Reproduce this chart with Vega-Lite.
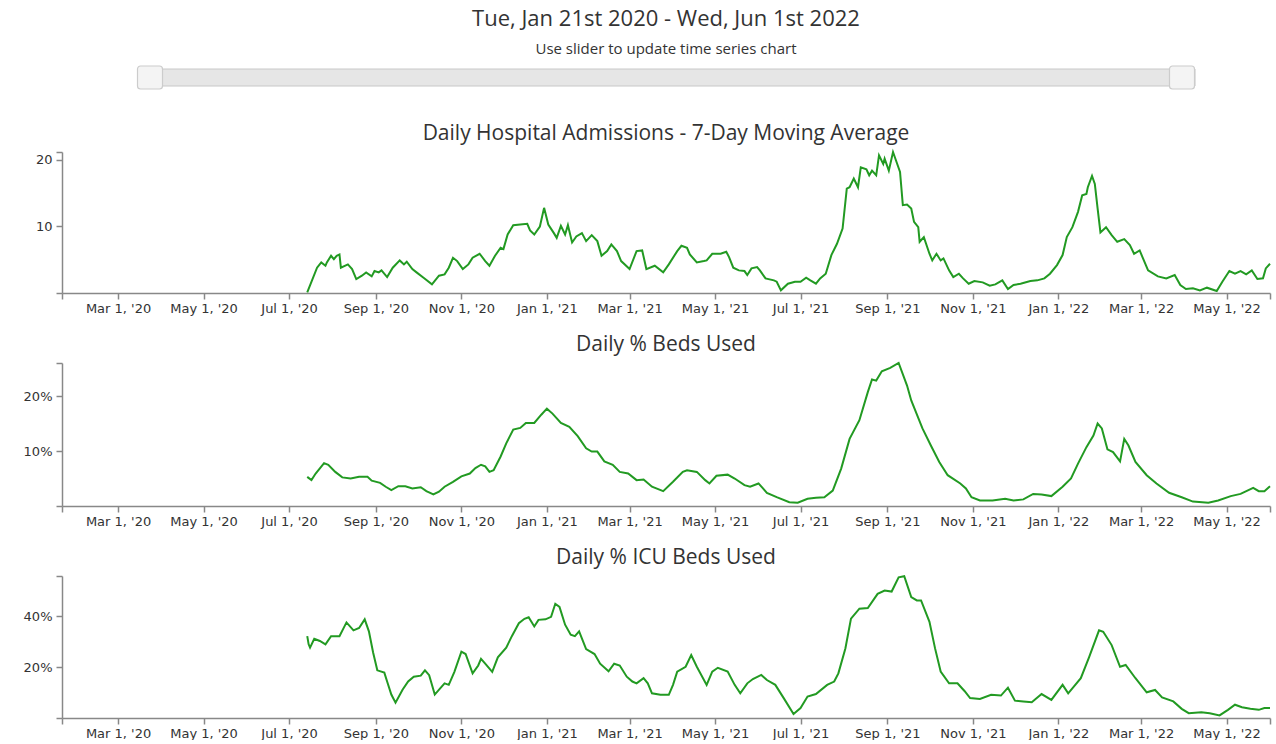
{
  "$schema": "https://vega.github.io/schema/vega-lite/v6.json",
  "padding": {"left": 22, "top": 8, "right": 6, "bottom": 0},
  "background": "white",
  "spacing": 19,
  "config": {
    "view": {"stroke": null},
    "font": "Open Sans",
    "title": {"font": "Open Sans", "fontSize": 21, "fontWeight": "normal", "color": "#333333", "anchor": "middle", "frame": "group", "offset": 2},
    "axis": {"labelFont": "DejaVu Sans", "labelFontSize": 13, "labelColor": "#333333", "domainColor": "#888888", "domainWidth": 1.5, "tickColor": "#888888", "tickWidth": 1.5, "tickSize": 6, "grid": false, "labelPadding": 3, "labelOverlap": false, "labelFlush": false}
  },
  "datasets": {
    "slider": [{"s": "2020-01-21", "e": "2022-06-01"}],
    "adm": [
      {"d":"2020-07-14","v":0.1},{"d":"2020-07-21","v":3.8},{"d":"2020-07-24","v":4.6},{"d":"2020-07-27","v":4.1},{"d":"2020-07-28","v":4.6},{"d":"2020-07-31","v":5.6},{"d":"2020-08-02","v":5.1},{"d":"2020-08-04","v":5.6},{"d":"2020-08-06","v":5.8},{"d":"2020-08-07","v":3.8},{"d":"2020-08-12","v":4.3},{"d":"2020-08-15","v":3.6},{"d":"2020-08-18","v":2.1},{"d":"2020-08-22","v":2.6},{"d":"2020-08-25","v":3.1},{"d":"2020-08-29","v":2.5},{"d":"2020-08-31","v":3.3},{"d":"2020-09-03","v":3.1},{"d":"2020-09-05","v":3.4},{"d":"2020-09-09","v":2.4},{"d":"2020-09-13","v":3.8},{"d":"2020-09-18","v":4.9},{"d":"2020-09-21","v":4.3},{"d":"2020-09-23","v":4.7},{"d":"2020-09-27","v":3.6},{"d":"2020-09-30","v":3.1},{"d":"2020-10-05","v":2.3},{"d":"2020-10-11","v":1.3},{"d":"2020-10-16","v":2.6},{"d":"2020-10-20","v":2.8},{"d":"2020-10-23","v":3.8},{"d":"2020-10-26","v":5.3},{"d":"2020-10-29","v":4.8},{"d":"2020-11-02","v":3.6},{"d":"2020-11-06","v":4.3},{"d":"2020-11-09","v":5.3},{"d":"2020-11-14","v":5.9},{"d":"2020-11-18","v":4.8},{"d":"2020-11-21","v":4.1},{"d":"2020-11-25","v":5.6},{"d":"2020-11-29","v":6.8},{"d":"2020-12-01","v":6.6},{"d":"2020-12-04","v":8.8},{"d":"2020-12-08","v":10.2},{"d":"2020-12-13","v":10.3},{"d":"2020-12-18","v":10.4},{"d":"2020-12-20","v":9.4},{"d":"2020-12-23","v":8.8},{"d":"2020-12-27","v":10.0},{"d":"2020-12-30","v":12.8},
      {"d":"2021-01-02","v":10.3},{"d":"2021-01-06","v":9.0},{"d":"2021-01-08","v":8.3},{"d":"2021-01-11","v":10.1},{"d":"2021-01-14","v":8.8},{"d":"2021-01-16","v":10.2},{"d":"2021-01-19","v":7.6},{"d":"2021-01-22","v":8.5},{"d":"2021-01-26","v":9.0},{"d":"2021-01-29","v":7.8},{"d":"2021-02-02","v":8.7},{"d":"2021-02-06","v":7.8},{"d":"2021-02-09","v":5.6},{"d":"2021-02-13","v":6.3},{"d":"2021-02-16","v":7.3},{"d":"2021-02-20","v":6.3},{"d":"2021-02-23","v":4.8},{"d":"2021-03-01","v":3.6},{"d":"2021-03-06","v":6.3},{"d":"2021-03-10","v":6.4},{"d":"2021-03-13","v":3.6},{"d":"2021-03-19","v":4.1},{"d":"2021-03-25","v":3.1},{"d":"2021-03-29","v":4.3},{"d":"2021-04-04","v":6.3},{"d":"2021-04-07","v":7.1},{"d":"2021-04-11","v":6.8},{"d":"2021-04-13","v":5.8},{"d":"2021-04-18","v":4.6},{"d":"2021-04-23","v":4.8},{"d":"2021-04-25","v":4.9},{"d":"2021-04-29","v":5.9},{"d":"2021-05-05","v":5.9},{"d":"2021-05-09","v":6.2},{"d":"2021-05-11","v":5.4},{"d":"2021-05-14","v":3.8},{"d":"2021-05-18","v":3.4},{"d":"2021-05-22","v":3.3},{"d":"2021-05-24","v":2.7},{"d":"2021-05-27","v":3.7},{"d":"2021-05-31","v":3.9},{"d":"2021-06-02","v":3.4},{"d":"2021-06-06","v":2.2},{"d":"2021-06-12","v":1.9},{"d":"2021-06-14","v":1.7},{"d":"2021-06-17","v":0.4},{"d":"2021-06-22","v":1.4},{"d":"2021-06-27","v":1.7},{"d":"2021-07-01","v":1.7},{"d":"2021-07-05","v":2.3},{"d":"2021-07-08","v":1.9},{"d":"2021-07-12","v":1.4},{"d":"2021-07-15","v":2.2},{"d":"2021-07-19","v":2.9},{"d":"2021-07-23","v":5.7},{"d":"2021-07-27","v":7.4},{"d":"2021-07-31","v":9.7},{"d":"2021-08-03","v":15.7},{"d":"2021-08-05","v":15.9},{"d":"2021-08-08","v":17.2},{"d":"2021-08-11","v":15.9},{"d":"2021-08-13","v":18.9},{"d":"2021-08-17","v":18.6},{"d":"2021-08-19","v":17.7},{"d":"2021-08-21","v":18.4},{"d":"2021-08-24","v":17.7},{"d":"2021-08-26","v":20.7},{"d":"2021-08-29","v":19.4},{"d":"2021-08-30","v":20.2},{"d":"2021-09-02","v":18.4},{"d":"2021-09-05","v":21.2},{"d":"2021-09-07","v":20.0},{"d":"2021-09-10","v":18.2},{"d":"2021-09-12","v":13.2},{"d":"2021-09-15","v":13.3},{"d":"2021-09-18","v":12.7},{"d":"2021-09-20","v":10.7},{"d":"2021-09-23","v":9.9},{"d":"2021-09-24","v":7.7},{"d":"2021-09-27","v":8.4},{"d":"2021-10-01","v":5.9},{"d":"2021-10-03","v":4.9},{"d":"2021-10-06","v":5.9},{"d":"2021-10-09","v":4.9},{"d":"2021-10-11","v":5.2},{"d":"2021-10-15","v":3.4},{"d":"2021-10-18","v":2.4},{"d":"2021-10-22","v":2.9},{"d":"2021-10-25","v":2.2},{"d":"2021-10-29","v":1.4},{"d":"2021-11-02","v":1.8},{"d":"2021-11-08","v":1.6},{"d":"2021-11-13","v":1.1},{"d":"2021-11-17","v":1.3},{"d":"2021-11-22","v":1.9},{"d":"2021-11-26","v":0.6},{"d":"2021-11-30","v":1.2},{"d":"2021-12-05","v":1.4},{"d":"2021-12-12","v":1.8},{"d":"2021-12-17","v":1.9},{"d":"2021-12-22","v":2.2},{"d":"2021-12-26","v":2.9},{"d":"2021-12-31","v":4.2},
      {"d":"2022-01-04","v":5.7},{"d":"2022-01-07","v":8.4},{"d":"2022-01-11","v":9.9},{"d":"2022-01-15","v":12.2},{"d":"2022-01-18","v":14.7},{"d":"2022-01-21","v":14.9},{"d":"2022-01-22","v":15.9},{"d":"2022-01-25","v":17.6},{"d":"2022-01-27","v":16.4},{"d":"2022-01-29","v":12.7},{"d":"2022-01-31","v":9.1},{"d":"2022-02-04","v":9.9},{"d":"2022-02-08","v":8.7},{"d":"2022-02-12","v":7.7},{"d":"2022-02-17","v":8.1},{"d":"2022-02-21","v":7.2},{"d":"2022-02-24","v":5.9},{"d":"2022-02-28","v":6.4},{"d":"2022-03-02","v":5.4},{"d":"2022-03-06","v":3.4},{"d":"2022-03-13","v":2.5},{"d":"2022-03-19","v":2.2},{"d":"2022-03-25","v":2.7},{"d":"2022-03-29","v":1.2},{"d":"2022-04-02","v":0.6},{"d":"2022-04-07","v":0.7},{"d":"2022-04-12","v":0.4},{"d":"2022-04-17","v":0.8},{"d":"2022-04-24","v":0.3},{"d":"2022-04-28","v":1.7},{"d":"2022-05-03","v":3.3},{"d":"2022-05-07","v":2.9},{"d":"2022-05-11","v":3.3},{"d":"2022-05-15","v":2.8},{"d":"2022-05-19","v":3.4},{"d":"2022-05-23","v":2.1},{"d":"2022-05-27","v":2.2},{"d":"2022-05-29","v":3.7},{"d":"2022-06-01","v":4.4}
    ],
    "beds": [
      {"d":"2020-07-14","v":5.3},{"d":"2020-07-17","v":4.7},{"d":"2020-07-20","v":5.9},{"d":"2020-07-26","v":7.8},{"d":"2020-07-29","v":7.5},{"d":"2020-08-03","v":6.2},{"d":"2020-08-08","v":5.2},{"d":"2020-08-14","v":5.0},{"d":"2020-08-20","v":5.3},{"d":"2020-08-26","v":5.3},{"d":"2020-08-29","v":4.6},{"d":"2020-09-04","v":4.2},{"d":"2020-09-08","v":3.5},{"d":"2020-09-12","v":2.9},{"d":"2020-09-17","v":3.6},{"d":"2020-09-22","v":3.6},{"d":"2020-09-27","v":3.2},{"d":"2020-10-03","v":3.4},{"d":"2020-10-07","v":2.7},{"d":"2020-10-12","v":2.1},{"d":"2020-10-16","v":2.6},{"d":"2020-10-20","v":3.5},{"d":"2020-10-26","v":4.4},{"d":"2020-11-01","v":5.4},{"d":"2020-11-07","v":5.9},{"d":"2020-11-11","v":6.9},{"d":"2020-11-15","v":7.5},{"d":"2020-11-18","v":7.2},{"d":"2020-11-21","v":6.2},{"d":"2020-11-24","v":6.5},{"d":"2020-11-29","v":9.0},{"d":"2020-12-03","v":11.4},{"d":"2020-12-08","v":13.9},{"d":"2020-12-13","v":14.2},{"d":"2020-12-17","v":15.1},{"d":"2020-12-23","v":15.1},{"d":"2020-12-28","v":16.6},
      {"d":"2021-01-01","v":17.7},{"d":"2021-01-05","v":16.8},{"d":"2021-01-11","v":15.1},{"d":"2021-01-17","v":14.4},{"d":"2021-01-23","v":12.7},{"d":"2021-01-29","v":10.5},{"d":"2021-02-02","v":9.9},{"d":"2021-02-06","v":9.9},{"d":"2021-02-11","v":8.1},{"d":"2021-02-17","v":7.5},{"d":"2021-02-22","v":6.2},{"d":"2021-02-28","v":5.9},{"d":"2021-03-06","v":4.7},{"d":"2021-03-11","v":4.8},{"d":"2021-03-17","v":3.5},{"d":"2021-03-25","v":2.7},{"d":"2021-04-01","v":4.4},{"d":"2021-04-08","v":6.2},{"d":"2021-04-11","v":6.5},{"d":"2021-04-18","v":6.2},{"d":"2021-04-24","v":4.7},{"d":"2021-04-27","v":4.1},{"d":"2021-05-02","v":5.5},{"d":"2021-05-10","v":5.7},{"d":"2021-05-15","v":5.0},{"d":"2021-05-22","v":3.8},{"d":"2021-05-26","v":3.5},{"d":"2021-06-01","v":4.1},{"d":"2021-06-07","v":2.4},{"d":"2021-06-14","v":1.6},{"d":"2021-06-23","v":0.7},{"d":"2021-06-29","v":0.6},{"d":"2021-07-06","v":1.3},{"d":"2021-07-12","v":1.5},{"d":"2021-07-18","v":1.6},{"d":"2021-07-24","v":2.8},{"d":"2021-07-30","v":6.8},{"d":"2021-08-05","v":12.2},{"d":"2021-08-12","v":15.6},{"d":"2021-08-18","v":20.7},{"d":"2021-08-21","v":23.0},{"d":"2021-08-24","v":22.8},{"d":"2021-08-28","v":24.5},{"d":"2021-09-03","v":25.1},{"d":"2021-09-09","v":26.0},{"d":"2021-09-15","v":21.9},{"d":"2021-09-18","v":19.2},{"d":"2021-09-26","v":14.1},{"d":"2021-10-02","v":11.0},{"d":"2021-10-08","v":8.0},{"d":"2021-10-14","v":5.6},{"d":"2021-10-23","v":4.1},{"d":"2021-10-27","v":3.2},{"d":"2021-10-31","v":1.6},{"d":"2021-11-06","v":1.0},{"d":"2021-11-15","v":1.0},{"d":"2021-11-24","v":1.3},{"d":"2021-11-30","v":1.0},{"d":"2021-12-07","v":1.2},{"d":"2021-12-14","v":2.2},{"d":"2021-12-20","v":2.1},{"d":"2021-12-27","v":1.8},
      {"d":"2022-01-04","v":3.5},{"d":"2022-01-10","v":5.0},{"d":"2022-01-15","v":7.7},{"d":"2022-01-21","v":10.7},{"d":"2022-01-26","v":12.8},{"d":"2022-01-29","v":15.0},{"d":"2022-02-01","v":14.1},{"d":"2022-02-05","v":10.3},{"d":"2022-02-09","v":9.8},{"d":"2022-02-14","v":8.1},{"d":"2022-02-17","v":12.2},{"d":"2022-02-20","v":11.0},{"d":"2022-02-25","v":8.0},{"d":"2022-03-05","v":5.6},{"d":"2022-03-12","v":4.1},{"d":"2022-03-21","v":2.4},{"d":"2022-03-30","v":1.6},{"d":"2022-04-07","v":0.8},{"d":"2022-04-18","v":0.6},{"d":"2022-04-25","v":1.0},{"d":"2022-05-04","v":1.8},{"d":"2022-05-11","v":2.2},{"d":"2022-05-20","v":3.3},{"d":"2022-05-24","v":2.7},{"d":"2022-05-28","v":2.7},{"d":"2022-06-01","v":3.6}
    ],
    "icu": [
      {"d":"2020-07-14","v":32.1},{"d":"2020-07-15","v":28.9},{"d":"2020-07-16","v":27.6},{"d":"2020-07-19","v":31.1},{"d":"2020-07-23","v":30.2},{"d":"2020-07-27","v":28.9},{"d":"2020-07-31","v":32.1},{"d":"2020-08-06","v":32.1},{"d":"2020-08-11","v":37.5},{"d":"2020-08-16","v":34.4},{"d":"2020-08-20","v":35.3},{"d":"2020-08-24","v":38.7},{"d":"2020-08-27","v":34.0},{"d":"2020-08-30","v":25.7},{"d":"2020-09-02","v":18.7},{"d":"2020-09-07","v":17.8},{"d":"2020-09-09","v":14.3},{"d":"2020-09-12","v":9.2},{"d":"2020-09-15","v":6.0},{"d":"2020-09-20","v":11.1},{"d":"2020-09-24","v":14.3},{"d":"2020-09-28","v":16.2},{"d":"2020-10-03","v":16.6},{"d":"2020-10-06","v":18.7},{"d":"2020-10-09","v":16.8},{"d":"2020-10-13","v":9.2},{"d":"2020-10-17","v":11.7},{"d":"2020-10-20","v":13.6},{"d":"2020-10-23","v":13.0},{"d":"2020-10-27","v":18.1},{"d":"2020-11-01","v":26.0},{"d":"2020-11-04","v":25.1},{"d":"2020-11-09","v":17.5},{"d":"2020-11-13","v":20.6},{"d":"2020-11-15","v":23.2},{"d":"2020-11-18","v":21.3},{"d":"2020-11-23","v":18.1},{"d":"2020-11-27","v":23.8},{"d":"2020-12-03","v":27.6},{"d":"2020-12-07","v":32.1},{"d":"2020-12-12","v":37.2},{"d":"2020-12-16","v":38.9},{"d":"2020-12-19","v":39.5},{"d":"2020-12-23","v":35.9},{"d":"2020-12-26","v":38.5},{"d":"2020-12-31","v":38.7},
      {"d":"2021-01-04","v":39.7},{"d":"2021-01-07","v":44.8},{"d":"2021-01-10","v":43.6},{"d":"2021-01-14","v":36.6},{"d":"2021-01-18","v":32.7},{"d":"2021-01-21","v":32.1},{"d":"2021-01-24","v":34.0},{"d":"2021-01-29","v":27.0},{"d":"2021-02-04","v":25.1},{"d":"2021-02-08","v":21.3},{"d":"2021-02-14","v":18.3},{"d":"2021-02-18","v":21.3},{"d":"2021-02-22","v":20.6},{"d":"2021-02-27","v":16.2},{"d":"2021-03-03","v":14.3},{"d":"2021-03-06","v":13.6},{"d":"2021-03-11","v":15.6},{"d":"2021-03-14","v":13.6},{"d":"2021-03-17","v":9.7},{"d":"2021-03-23","v":9.1},{"d":"2021-03-29","v":9.1},{"d":"2021-04-01","v":13.0},{"d":"2021-04-04","v":18.2},{"d":"2021-04-10","v":20.1},{"d":"2021-04-14","v":24.7},{"d":"2021-04-18","v":20.1},{"d":"2021-04-25","v":13.0},{"d":"2021-04-29","v":18.2},{"d":"2021-05-03","v":19.7},{"d":"2021-05-10","v":18.2},{"d":"2021-05-15","v":13.0},{"d":"2021-05-19","v":9.7},{"d":"2021-05-24","v":13.6},{"d":"2021-05-28","v":15.3},{"d":"2021-06-03","v":16.9},{"d":"2021-06-07","v":14.9},{"d":"2021-06-13","v":13.0},{"d":"2021-06-19","v":7.8},{"d":"2021-06-26","v":1.6},{"d":"2021-07-01","v":3.9},{"d":"2021-07-06","v":8.4},{"d":"2021-07-12","v":9.4},{"d":"2021-07-20","v":13.0},{"d":"2021-07-25","v":14.3},{"d":"2021-07-28","v":17.5},{"d":"2021-08-02","v":27.3},{"d":"2021-08-06","v":39.0},{"d":"2021-08-12","v":42.9},{"d":"2021-08-18","v":43.1},{"d":"2021-08-25","v":48.7},{"d":"2021-08-30","v":50.0},{"d":"2021-09-04","v":49.6},{"d":"2021-09-09","v":55.2},{"d":"2021-09-13","v":55.6},{"d":"2021-09-18","v":47.4},{"d":"2021-09-22","v":46.1},{"d":"2021-09-25","v":46.1},{"d":"2021-10-01","v":37.7},{"d":"2021-10-05","v":27.3},{"d":"2021-10-09","v":18.2},{"d":"2021-10-15","v":13.6},{"d":"2021-10-21","v":13.6},{"d":"2021-10-26","v":10.6},{"d":"2021-10-30","v":7.8},{"d":"2021-11-06","v":7.5},{"d":"2021-11-14","v":9.1},{"d":"2021-11-21","v":8.8},{"d":"2021-11-26","v":11.9},{"d":"2021-12-01","v":6.8},{"d":"2021-12-07","v":6.5},{"d":"2021-12-13","v":6.2},{"d":"2021-12-20","v":9.4},{"d":"2021-12-27","v":7.1},
      {"d":"2022-01-04","v":13.0},{"d":"2022-01-08","v":9.7},{"d":"2022-01-12","v":12.3},{"d":"2022-01-17","v":15.6},{"d":"2022-01-23","v":24.0},{"d":"2022-01-30","v":34.4},{"d":"2022-02-02","v":33.8},{"d":"2022-02-08","v":28.6},{"d":"2022-02-14","v":20.1},{"d":"2022-02-18","v":20.8},{"d":"2022-02-25","v":15.6},{"d":"2022-03-05","v":10.1},{"d":"2022-03-11","v":11.0},{"d":"2022-03-16","v":8.1},{"d":"2022-03-24","v":6.5},{"d":"2022-03-30","v":3.6},{"d":"2022-04-04","v":1.9},{"d":"2022-04-13","v":2.3},{"d":"2022-04-19","v":1.9},{"d":"2022-04-26","v":1.0},{"d":"2022-05-02","v":3.2},{"d":"2022-05-07","v":5.2},{"d":"2022-05-12","v":4.2},{"d":"2022-05-18","v":3.6},{"d":"2022-05-24","v":3.2},{"d":"2022-05-28","v":3.9},{"d":"2022-06-01","v":3.9}
    ]
  },
  "vconcat": [
    {
      "title": {"text": "Tue, Jan 21st 2020 - Wed, Jun 1st 2022", "subtitle": "Use slider to update time series chart", "fontSize": 22, "subtitleFont": "Open Sans", "subtitleFontSize": 15, "subtitleColor": "#333333", "subtitlePadding": 11, "offset": 7},
      "width": 1208,
      "height": 38,
      "data": {"name": "slider"},
      "layer": [
        {
          "mark": {"type": "rect", "fill": "#e6e6e6", "stroke": "#c8c8c8", "strokeWidth": 1, "xOffset": -12, "x2Offset": 13},
          "encoding": {
            "x": {"field": "s", "type": "temporal", "scale": {"type": "utc", "domain": [{"year": 2019, "month": "Nov", "date": 8, "hours": 12, "utc": true}, {"year": 2022, "month": "Aug", "date": 13, "hours": 12, "utc": true}]}, "axis": null},
            "x2": {"field": "e"},
            "y": {"value": 3},
            "y2": {"value": 20}
          }
        },
        {
          "mark": {"type": "rect", "fill": "#f4f4f4", "stroke": "#cccccc", "strokeWidth": 1.2, "cornerRadius": 3, "xOffset": -12.5, "x2Offset": 12.5},
          "encoding": {
            "x": {"field": "s", "type": "temporal"},
            "x2": {"field": "s"},
            "y": {"value": 0},
            "y2": {"value": 23}
          }
        },
        {
          "mark": {"type": "rect", "fill": "#f4f4f4", "stroke": "#cccccc", "strokeWidth": 1.2, "cornerRadius": 3, "xOffset": -12.5, "x2Offset": 12.5},
          "encoding": {
            "x": {"field": "e", "type": "temporal"},
            "x2": {"field": "e"},
            "y": {"value": 0},
            "y2": {"value": 23}
          }
        }
      ]
    },
    {
      "title": "Daily Hospital Admissions - 7-Day Moving Average",
      "width": 1208,
      "height": 141,
      "data": {"name": "adm"},
      "mark": {"type": "line", "color": "#229a22", "strokeWidth": 2},
      "encoding": {
        "x": {"field": "d", "type": "temporal", "scale": {"type": "utc", "domain": [{"year": 2020, "month": "Jan", "date": 21, "utc": true}, {"year": 2022, "month": "Jun", "date": 1, "utc": true}]},
          "axis": {"title": null, "format": "%b %-d, '%y", "labelExpr": "utcdate(datum.value) == 21 || utcmonth(datum.value) == 5 ? '' : datum.label",
            "values": [{"year": 2020, "month": "Jan", "date": 21, "utc": true}, {"year": 2020, "month": "Mar", "date": 1, "utc": true}, {"year": 2020, "month": "May", "date": 1, "utc": true}, {"year": 2020, "month": "Jul", "date": 1, "utc": true}, {"year": 2020, "month": "Sep", "date": 1, "utc": true}, {"year": 2020, "month": "Nov", "date": 1, "utc": true}, {"year": 2021, "month": "Jan", "date": 1, "utc": true}, {"year": 2021, "month": "Mar", "date": 1, "utc": true}, {"year": 2021, "month": "May", "date": 1, "utc": true}, {"year": 2021, "month": "Jul", "date": 1, "utc": true}, {"year": 2021, "month": "Sep", "date": 1, "utc": true}, {"year": 2021, "month": "Nov", "date": 1, "utc": true}, {"year": 2022, "month": "Jan", "date": 1, "utc": true}, {"year": 2022, "month": "Mar", "date": 1, "utc": true}, {"year": 2022, "month": "May", "date": 1, "utc": true}, {"year": 2022, "month": "Jun", "date": 1, "utc": true}]}},
        "y": {"field": "v", "type": "quantitative", "scale": {"domain": [0, 21.2], "nice": false},
          "axis": {"title": null, "values": [0, 10, 20, 21.2], "labelPadding": 4, "labelExpr": "datum.value == 10 || datum.value == 20 ? datum.label : ''", "minExtent": 40, "maxExtent": 40}}
      }
    },
    {
      "title": "Daily % Beds Used",
      "width": 1208,
      "height": 143,
      "data": {"name": "beds"},
      "mark": {"type": "line", "color": "#229a22", "strokeWidth": 2},
      "encoding": {
        "x": {"field": "d", "type": "temporal", "scale": {"type": "utc", "domain": [{"year": 2020, "month": "Jan", "date": 21, "utc": true}, {"year": 2022, "month": "Jun", "date": 1, "utc": true}]},
          "axis": {"title": null, "format": "%b %-d, '%y", "labelExpr": "utcdate(datum.value) == 21 || utcmonth(datum.value) == 5 ? '' : datum.label",
            "values": [{"year": 2020, "month": "Jan", "date": 21, "utc": true}, {"year": 2020, "month": "Mar", "date": 1, "utc": true}, {"year": 2020, "month": "May", "date": 1, "utc": true}, {"year": 2020, "month": "Jul", "date": 1, "utc": true}, {"year": 2020, "month": "Sep", "date": 1, "utc": true}, {"year": 2020, "month": "Nov", "date": 1, "utc": true}, {"year": 2021, "month": "Jan", "date": 1, "utc": true}, {"year": 2021, "month": "Mar", "date": 1, "utc": true}, {"year": 2021, "month": "May", "date": 1, "utc": true}, {"year": 2021, "month": "Jul", "date": 1, "utc": true}, {"year": 2021, "month": "Sep", "date": 1, "utc": true}, {"year": 2021, "month": "Nov", "date": 1, "utc": true}, {"year": 2022, "month": "Jan", "date": 1, "utc": true}, {"year": 2022, "month": "Mar", "date": 1, "utc": true}, {"year": 2022, "month": "May", "date": 1, "utc": true}, {"year": 2022, "month": "Jun", "date": 1, "utc": true}]}},
        "y": {"field": "v", "type": "quantitative", "scale": {"domain": [0, 26], "nice": false},
          "axis": {"title": null, "values": [0, 10, 20, 26], "labelPadding": 4, "labelExpr": "datum.value == 10 || datum.value == 20 ? datum.value + '%' : ''", "minExtent": 40, "maxExtent": 40}}
      }
    },
    {
      "title": "Daily % ICU Beds Used",
      "width": 1208,
      "height": 142,
      "data": {"name": "icu"},
      "mark": {"type": "line", "color": "#229a22", "strokeWidth": 2},
      "encoding": {
        "x": {"field": "d", "type": "temporal", "scale": {"type": "utc", "domain": [{"year": 2020, "month": "Jan", "date": 21, "utc": true}, {"year": 2022, "month": "Jun", "date": 1, "utc": true}]},
          "axis": {"title": null, "format": "%b %-d, '%y", "labelExpr": "utcdate(datum.value) == 21 || utcmonth(datum.value) == 5 ? '' : datum.label",
            "values": [{"year": 2020, "month": "Jan", "date": 21, "utc": true}, {"year": 2020, "month": "Mar", "date": 1, "utc": true}, {"year": 2020, "month": "May", "date": 1, "utc": true}, {"year": 2020, "month": "Jul", "date": 1, "utc": true}, {"year": 2020, "month": "Sep", "date": 1, "utc": true}, {"year": 2020, "month": "Nov", "date": 1, "utc": true}, {"year": 2021, "month": "Jan", "date": 1, "utc": true}, {"year": 2021, "month": "Mar", "date": 1, "utc": true}, {"year": 2021, "month": "May", "date": 1, "utc": true}, {"year": 2021, "month": "Jul", "date": 1, "utc": true}, {"year": 2021, "month": "Sep", "date": 1, "utc": true}, {"year": 2021, "month": "Nov", "date": 1, "utc": true}, {"year": 2022, "month": "Jan", "date": 1, "utc": true}, {"year": 2022, "month": "Mar", "date": 1, "utc": true}, {"year": 2022, "month": "May", "date": 1, "utc": true}, {"year": 2022, "month": "Jun", "date": 1, "utc": true}]}},
        "y": {"field": "v", "type": "quantitative", "scale": {"domain": [0, 55.7], "nice": false},
          "axis": {"title": null, "values": [0, 20, 40, 55.7], "labelPadding": 4, "labelExpr": "datum.value == 20 || datum.value == 40 ? datum.value + '%' : ''", "minExtent": 40, "maxExtent": 40}}
      }
    }
  ]
}
